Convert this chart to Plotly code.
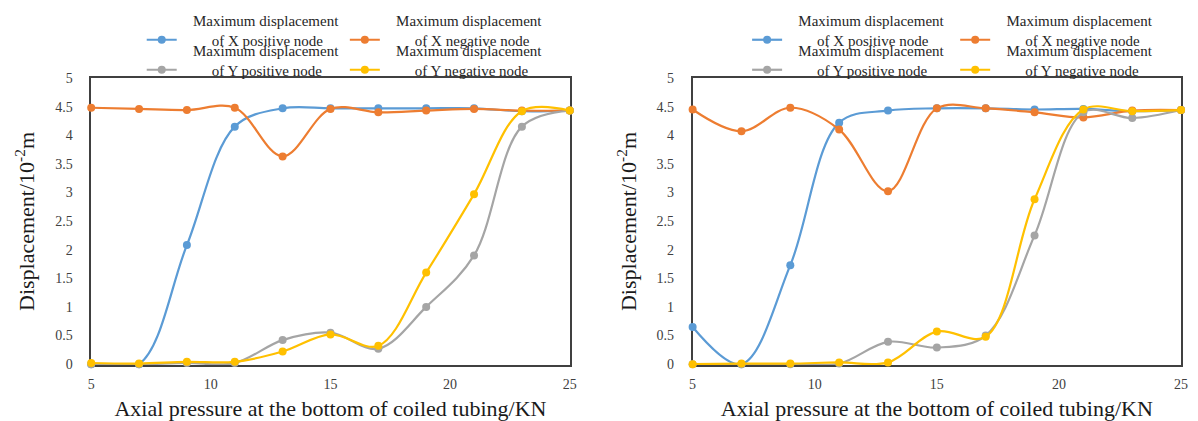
import plotly.graph_objects as go

W, H = 1198, 421

pressure = [5, 7, 9, 11, 13, 15, 17, 19, 21, 23, 25]

left_x_pos = [0.0, 0.0, 2.08, 4.15, 4.47, 4.47, 4.47, 4.47, 4.47, 4.42, 4.43]
left_x_neg = [4.48, 4.46, 4.44, 4.48, 3.63, 4.46, 4.40, 4.43, 4.46, 4.43, 4.43]
left_y_pos = [0.0, 0.0, 0.02, 0.02, 0.42, 0.55, 0.27, 1.00, 1.90, 4.15, 4.43]
left_y_neg = [0.02, 0.01, 0.04, 0.04, 0.22, 0.52, 0.32, 1.60, 2.97, 4.42, 4.43]

right_x_pos = [0.65, 0.0, 1.73, 4.22, 4.43, 4.47, 4.47, 4.45, 4.46, 4.42, 4.44]
right_x_neg = [4.45, 4.07, 4.48, 4.10, 3.02, 4.47, 4.47, 4.40, 4.31, 4.43, 4.44]
right_y_pos = [0.0, 0.0, 0.0, 0.01, 0.39, 0.29, 0.50, 2.25, 4.40, 4.30, 4.44]
right_y_neg = [0.0, 0.01, 0.01, 0.03, 0.03, 0.57, 0.48, 2.88, 4.45, 4.42, 4.44]

x_ticks = [5, 10, 15, 20, 25]
y_ticks = [0, 0.5, 1, 1.5, 2, 2.5, 3, 3.5, 4, 4.5, 5]

NB = "\u00a0"
series_names = [
    NB * 3 + "Maximum displacement<br>" + NB * 8 + "of X positive node",
    NB * 3 + "Maximum displacement<br>" + NB * 8 + "of X negative node",
    NB * 3 + "Maximum displacement<br>" + NB * 8 + "of Y positive node",
    NB * 3 + "Maximum displacement<br>" + NB * 8 + "of Y negative node",
]
colors = ["#5B9BD5", "#ED7D31", "#A5A5A5", "#FFC000"]

panels = [
    [left_x_pos, left_x_neg, left_y_pos, left_y_neg],
    [right_x_pos, right_x_neg, right_y_pos, right_y_neg],
]

FONT = "Liberation Serif, Times New Roman, serif"

# pixel geometry
box = [(88, 571), (695, 1188)]
top_px, bottom_px = 78, 365
legend_cols = [(139, 344), (750, 960)]
legend_rows = [30, 60]


def px_x(p):
    return p / W


fig = go.Figure()
li = 0
for pi, series in enumerate(panels):
    axsuf = "" if pi == 0 else "2"
    for si, vals in enumerate(series):
        li += 1
        lname = "legend" if li == 1 else f"legend{li}"
        fig.add_trace(go.Scatter(
            x=pressure, y=vals, name=series_names[si],
            mode="lines+markers",
            line=dict(color=colors[si], width=2.2, shape="spline", smoothing=1.0),
            marker=dict(color=colors[si], size=8),
            cliponaxis=False,
            xaxis="x" + axsuf, yaxis="y" + axsuf,
            legend=lname,
        ))
        col = si % 2
        row = si // 2
        fig.update_layout(**{lname: dict(
            x=px_x(legend_cols[pi][col]),
            y=1 + (top_px - legend_rows[row]) / (bottom_px - top_px),
            xanchor="left", yanchor="middle",
            bgcolor="rgba(0,0,0,0)",
            font=dict(family=FONT, size=15, color="#262626"),
            valign="bottom",
            tracegroupgap=0,
        )})

axis_common = dict(
    showline=True, mirror=True, linecolor="#404040", linewidth=1.5,
    showgrid=False, zeroline=False, ticks="", layer="below traces",
    tickfont=dict(family=FONT, size=14, color="#404040"),
    title_font=dict(family=FONT, size=22, color="#1a1a1a"),
)

for pi in range(2):
    axsuf = "" if pi == 0 else "2"
    fig.update_layout(**{
        "xaxis" + axsuf: dict(
            axis_common,
            domain=[box[pi][0] / W, box[pi][1] / W],
            range=[5, 25], tickvals=x_ticks,
            anchor="y" + axsuf,
            title=dict(text="Axial pressure at the bottom of coiled tubing/KN", standoff=10),
            ticklabelstandoff=5,
        ),
        "yaxis" + axsuf: dict(
            axis_common,
            domain=[0, 1],
            range=[-0.015, 5], tickvals=y_ticks,
            anchor="x" + axsuf,
            title=dict(text="Displacement/10<sup>-2</sup>m", standoff=14),
            ticklabelstandoff=14,
        ),
    })

fig.update_layout(
    width=W, height=H,
    margin=dict(l=0, r=0, t=top_px, b=H - bottom_px),
    plot_bgcolor="white", paper_bgcolor="white",
    showlegend=True,
)

fig.write_html(
    "out.html",
    config={"displayModeBar": False},
    post_script="document.body.style.margin='0px';document.body.style.overflow='hidden';",
)
